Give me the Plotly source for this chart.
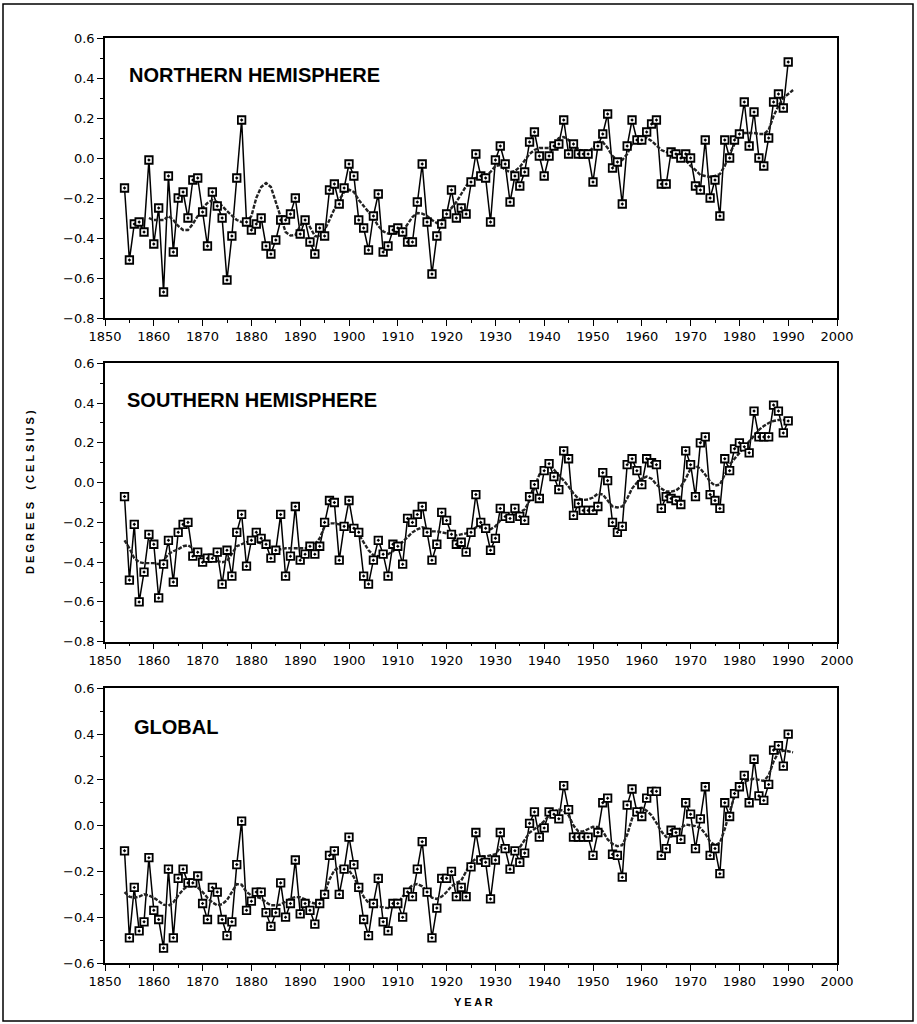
import plotly.graph_objects as go

years = list(range(1854, 1991))

nh = [-0.15, -0.51, -0.33, -0.32, -0.37, -0.01,
      -0.43, -0.25, -0.67, -0.09, -0.47, -0.20, -0.17, -0.30, -0.11, -0.10,
      -0.27, -0.44, -0.17, -0.24, -0.30, -0.61, -0.39, -0.10, 0.19, -0.32,
      -0.36, -0.33, -0.30, -0.44, -0.48, -0.41, -0.31, -0.31, -0.28, -0.20,
      -0.38, -0.31, -0.42, -0.48, -0.35, -0.39, -0.16, -0.13, -0.23, -0.15,
      -0.03, -0.09, -0.31, -0.35, -0.46, -0.29, -0.18, -0.47, -0.44, -0.36,
      -0.35, -0.37, -0.42, -0.42, -0.22, -0.03, -0.32, -0.58, -0.39, -0.33,
      -0.28, -0.16, -0.30, -0.25, -0.28, -0.12, 0.02, -0.09, -0.10, -0.32,
      -0.01, 0.06, -0.03, -0.22, -0.09, -0.14, -0.07, 0.08, 0.13, 0.01,
      -0.09, 0.01, 0.06, 0.07, 0.19, 0.02, 0.07, 0.02, 0.02, 0.02,
      -0.12, 0.06, 0.12, 0.22, -0.05, -0.02, -0.23, 0.06, 0.19, 0.09,
      0.09, 0.13, 0.17, 0.19, -0.13, -0.13, 0.03, 0.02, 0.00, 0.02,
      0.00, -0.14, -0.16, 0.09, -0.20, -0.11, -0.29, 0.09, 0.00, 0.09,
      0.12, 0.28, 0.06, 0.23, 0.00, -0.04, 0.10, 0.28, 0.32, 0.25,
      0.48]

sh = [-0.07, -0.49, -0.21, -0.60, -0.45, -0.26,
      -0.31, -0.58, -0.41, -0.29, -0.50, -0.25, -0.21, -0.20, -0.37, -0.35,
      -0.40, -0.38, -0.38, -0.35, -0.51, -0.34, -0.47, -0.25, -0.16, -0.42,
      -0.29, -0.25, -0.28, -0.31, -0.38, -0.34, -0.16, -0.47, -0.37, -0.12,
      -0.39, -0.36, -0.32, -0.36, -0.32, -0.20, -0.09, -0.10, -0.39, -0.22,
      -0.09, -0.23, -0.25, -0.47, -0.51, -0.39, -0.29, -0.36, -0.47, -0.31,
      -0.32, -0.41, -0.18, -0.20, -0.16, -0.12, -0.25, -0.39, -0.31, -0.15,
      -0.19, -0.26, -0.31, -0.30, -0.35, -0.25, -0.06, -0.20, -0.23, -0.34,
      -0.28, -0.13, -0.17, -0.18, -0.13, -0.17, -0.19, -0.07, -0.01, -0.08,
      0.06, 0.095, 0.03, -0.035, 0.16, 0.12, -0.165, -0.105, -0.14, -0.14,
      -0.14, -0.12, 0.05, 0.01, -0.20, -0.25, -0.22, 0.09, 0.12, 0.06,
      -0.01, 0.12, 0.10, 0.09, -0.13, -0.07, -0.08, -0.09, -0.11, 0.16,
      0.09, -0.07, 0.20, 0.23, -0.06, -0.09, -0.13, 0.12, 0.06, 0.17,
      0.20, 0.18, 0.15, 0.36, 0.23, 0.23, 0.23, 0.39, 0.36, 0.25,
      0.31]

gl = [-0.11, -0.49, -0.27, -0.46, -0.42, -0.14,
      -0.37, -0.41, -0.535, -0.19, -0.49, -0.23, -0.19, -0.25, -0.25, -0.22,
      -0.34, -0.41, -0.27, -0.29, -0.41, -0.48, -0.42, -0.17, 0.02, -0.37,
      -0.33, -0.29, -0.29, -0.38, -0.44, -0.38, -0.25, -0.40, -0.34, -0.15,
      -0.385, -0.34, -0.37, -0.43, -0.34, -0.30, -0.13, -0.11, -0.30, -0.19,
      -0.05, -0.17, -0.27, -0.41, -0.48, -0.34, -0.23, -0.42, -0.46, -0.34,
      -0.34, -0.40, -0.29, -0.31, -0.19, -0.07, -0.29, -0.49, -0.36, -0.23,
      -0.23, -0.20, -0.31, -0.27, -0.31, -0.18, -0.03, -0.15, -0.16, -0.32,
      -0.15, -0.03, -0.10, -0.19, -0.11, -0.16, -0.12, 0.01, 0.06, -0.05,
      -0.01, 0.06, 0.05, 0.03, 0.175, 0.07, -0.05, -0.05, -0.05, -0.05,
      -0.13, -0.03, 0.10, 0.12, -0.125, -0.13, -0.225, 0.09, 0.16, 0.06,
      0.04, 0.12, 0.15, 0.15, -0.13, -0.10, -0.02, -0.03, -0.06, 0.10,
      0.05, -0.10, 0.03, 0.17, -0.13, -0.10, -0.21, 0.10, 0.04, 0.14,
      0.17, 0.22, 0.10, 0.29, 0.13, 0.11, 0.18, 0.33, 0.35, 0.26,
      0.40]

nh_smooth_years = list(range(1859, 1992))
nh_smooth = [-0.30, -0.31, -0.31, -0.31, -0.29, -0.31, -0.34, -0.36, -0.36, -0.33, -0.29,
             -0.25, -0.225, -0.21, -0.22, -0.24, -0.265, -0.29, -0.31, -0.32, -0.32,
             -0.29, -0.20, -0.145, -0.125, -0.145, -0.22, -0.30, -0.37, -0.388, -0.385,
             -0.34, -0.305, -0.345, -0.39, -0.395, -0.36, -0.31, -0.255, -0.21, -0.17,
             -0.158, -0.17, -0.21, -0.24, -0.275, -0.30, -0.34, -0.367, -0.378, -0.378,
             -0.378, -0.367, -0.33, -0.295, -0.275, -0.278, -0.29, -0.31, -0.325, -0.31,
             -0.28, -0.25, -0.22, -0.18, -0.14, -0.11, -0.10, -0.10, -0.09, -0.07,
             -0.04, -0.035, -0.06, -0.07, -0.065, -0.045, -0.01, 0.02, 0.04, 0.05,
             0.05, 0.05, 0.07, 0.10, 0.105, 0.09, 0.07, 0.045, 0.03, 0.03,
             0.05, 0.08, 0.08, 0.05, 0.01, -0.01, -0.01, 0.02, 0.07, 0.09,
             0.095, 0.10, 0.085, 0.06, 0.04, 0.03, 0.02, 0.015, 0.005, -0.01,
             -0.04, -0.06, -0.085, -0.09, -0.095, -0.09, -0.08, -0.04, 0.02, 0.07,
             0.11, 0.125, 0.125, 0.125, 0.12, 0.12, 0.14, 0.21, 0.26, 0.30,
             0.32, 0.34]

sh_smooth_years = list(range(1854, 1992))
sh_smooth = [-0.29, -0.33, -0.38, -0.40, -0.405, -0.405,
             -0.405, -0.41, -0.39, -0.36, -0.345, -0.335, -0.32, -0.315, -0.33, -0.355,
             -0.37, -0.38, -0.39, -0.395, -0.40, -0.395, -0.36, -0.32, -0.31, -0.30,
             -0.30, -0.30, -0.305, -0.32, -0.33, -0.34, -0.335, -0.33, -0.33, -0.33,
             -0.33, -0.33, -0.325, -0.31, -0.28, -0.22, -0.205, -0.205, -0.21, -0.215,
             -0.22, -0.235, -0.26, -0.30, -0.34, -0.365, -0.37, -0.37, -0.36, -0.345,
             -0.32, -0.30, -0.27, -0.25, -0.235, -0.225, -0.23, -0.245, -0.245, -0.25,
             -0.255, -0.26, -0.265, -0.26, -0.255, -0.245, -0.225, -0.225, -0.235, -0.235,
             -0.22, -0.19, -0.17, -0.165, -0.16, -0.15, -0.135, -0.09, -0.02, 0.04,
             0.07, 0.085, 0.065, 0.04, 0.01, -0.02, -0.055, -0.08, -0.087, -0.085,
             -0.075, -0.055, -0.06, -0.09, -0.12, -0.125, -0.12, -0.08, -0.03, 0.0,
             0.02, 0.03, 0.02, -0.01, -0.03, -0.045, -0.045, -0.04, -0.02, 0.02,
             0.07, 0.085, 0.07, 0.04, 0.005, -0.015, -0.01, 0.04, 0.09, 0.12,
             0.15, 0.18, 0.205, 0.235, 0.265, 0.285, 0.30, 0.31, 0.315, 0.315,
             0.313, 0.31]

gl_smooth_years = list(range(1854, 1992))
gl_smooth = [-0.29, -0.31, -0.315, -0.31, -0.30, -0.305,
             -0.315, -0.33, -0.345, -0.35, -0.335, -0.305, -0.28, -0.262, -0.26, -0.27,
             -0.29, -0.315, -0.335, -0.348, -0.343, -0.325, -0.29, -0.255, -0.258, -0.29,
             -0.305, -0.31, -0.318, -0.335, -0.348, -0.348, -0.345, -0.332, -0.318, -0.312,
             -0.313, -0.322, -0.335, -0.34, -0.338, -0.295, -0.235, -0.195, -0.182, -0.186,
             -0.195, -0.225, -0.27, -0.31, -0.338, -0.35, -0.353, -0.357, -0.36, -0.353,
             -0.34, -0.31, -0.28, -0.26, -0.255, -0.265, -0.29, -0.315, -0.32, -0.31,
             -0.29, -0.265, -0.25, -0.24, -0.20, -0.16, -0.145, -0.135, -0.135, -0.13,
             -0.125, -0.095, -0.095, -0.11, -0.11, -0.095, -0.06, -0.03, -0.015, 0.0,
             0.02, 0.045, 0.062, 0.07, 0.065, 0.045, 0.0, -0.025, -0.025, -0.015,
             -0.005, -0.006, -0.025, -0.06, -0.08, -0.09, -0.085, -0.04, 0.03, 0.075,
             0.078, 0.065, 0.045, 0.012, -0.025, -0.05, -0.048, -0.035, -0.01, 0.005,
             0.003, -0.002, -0.01, -0.035, -0.07, -0.085, -0.075, -0.015, 0.06, 0.13,
             0.17, 0.19, 0.20, 0.205, 0.20, 0.195, 0.22, 0.28, 0.32, 0.328,
             0.325, 0.32]

panel_titles = ["NORTHERN HEMISPHERE", "SOUTHERN HEMISPHERE", "GLOBAL"]
x_ticks = list(range(1850, 2001, 10))

# layout in pixels
W, H = 917, 1024
L, R, T, B = 105, 837, 38, 963
PW, PH = R - L, B - T


def px(x):
    return (x - L) / PW


def py(y):
    return (B - y) / PH


fig = go.Figure()

panels = [
    (years, nh, nh_smooth_years, nh_smooth, "x", "y"),
    (years, sh, sh_smooth_years, sh_smooth, "x2", "y2"),
    (years, gl, gl_smooth_years, gl_smooth, "x3", "y3"),
]

for yrs, vals, syrs, svals, xa, ya in panels:
    fig.add_trace(go.Scatter(
        x=yrs, y=vals, mode="lines", xaxis=xa, yaxis=ya,
        line=dict(color="black", width=1.5), showlegend=False, hoverinfo="skip"))
    fig.add_trace(go.Scatter(
        x=syrs, y=svals, mode="lines", xaxis=xa, yaxis=ya,
        line=dict(color="#222222", width=2.4, dash="4px,1.5px"), showlegend=False))
    fig.add_trace(go.Scatter(
        x=yrs, y=vals, mode="markers", xaxis=xa, yaxis=ya,
        marker=dict(symbol="square-dot", size=7.5, color="white",
                    line=dict(color="black", width=1.8)),
        showlegend=False))

axis_common = dict(
    showline=True, linecolor="black", linewidth=1.5, mirror=True,
    ticks="outside", ticklen=6, tickwidth=1.3, tickcolor="black",
    showgrid=False, zeroline=False,
    tickfont=dict(family="DejaVu Sans", size=13, color="black"),
)

ydoms = [(py(318), 1.0), (py(641.7), py(363.3)), (0.0, py(688.3))]
yranges = [(-0.8, 0.6), (-0.8, 0.6), (-0.6, 0.6)]
names = ["", "2", "3"]
for i, n in enumerate(names):
    fig.layout["xaxis" + n] = dict(
        axis_common, domain=[0, 1], range=[1850, 2000], anchor="y" + n,
        tickvals=x_ticks, ticktext=[str(v) for v in x_ticks],
        minor=dict(ticks="outside", ticklen=3, dtick=5, tickcolor="black", showgrid=False),
    )
    fig.layout["yaxis" + n] = dict(
        axis_common, domain=list(ydoms[i]), range=list(yranges[i]), anchor="x" + n,
        dtick=0.2, tickformat=".1f",
        minor=dict(ticks="outside", ticklen=3, dtick=0.1, tickcolor="black", showgrid=False),
    )

title_pos = [(127, 75), (125, 400), (132, 727)]
annotations = []
for t, (tx, ty) in zip(panel_titles, title_pos):
    annotations.append(dict(
        text=t, x=px(tx), y=py(ty), xref="paper", yref="paper",
        xanchor="left", yanchor="middle", showarrow=False,
        font=dict(family="Liberation Sans", size=20, color="black", weight="bold")))

annotations.append(dict(
    text="D E G R E E S\u00a0\u00a0\u00a0\u00a0( C E L S I U S )", x=px(30), y=py(492),
    xref="paper", yref="paper", textangle=-90, showarrow=False,
    xanchor="center", yanchor="middle",
    font=dict(family="Liberation Sans", size=11, color="black", weight="bold")))
annotations.append(dict(
    text="Y E A R", x=px(474), y=py(1002), xref="paper", yref="paper",
    showarrow=False, xanchor="center", yanchor="middle",
    font=dict(family="Liberation Sans", size=11, color="black", weight="bold")))

fig.update_layout(
    width=W, height=H,
    margin=dict(l=L, r=W - R, t=T, b=H - B, pad=0),
    paper_bgcolor="white", plot_bgcolor="white",
    annotations=annotations,
    shapes=[dict(type="rect", xref="paper", yref="paper",
                 x0=px(3), x1=px(913), y0=py(1021), y1=py(4),
                 line=dict(color="black", width=1.5))],
)

fig.write_html("out.html")
